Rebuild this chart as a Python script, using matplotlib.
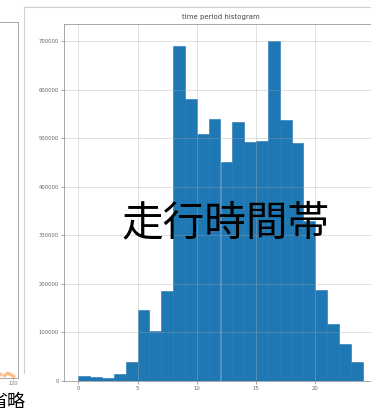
import matplotlib.pyplot as plt
import numpy as np

# Counts per hour of day
hours = list(range(24))
counts = [11000, 8000, 7000, 14000, 39000, 146000, 102000, 186000,
          690000, 581000, 509000, 540000, 451000, 533000, 493000, 495000,
          700000, 537000, 490000, 330000, 188000, 118000, 76000, 40000]
bin_edges = list(range(25))
y_ticks = [0, 100000, 200000, 300000, 400000, 500000, 600000, 700000]
x_ticks = [0, 5, 10, 15, 20, 25]

# Neighbouring panel (only its right edge is in view)
side_x = [108, 111, 114, 117, 120]
side_y = [0.012, 0.008, 0.015, 0.010, 0.006]

W, H = 371, 409
fig = plt.figure(figsize=(W / 100, H / 100), dpi=100)
fig.patch.set_facecolor("white")

grid_kw = dict(color="#a8a8a8", linewidth=0.6, alpha=0.4)
spine_color = "#9a9a9a"

# left neighbour panel
ax0 = fig.add_axes([-0.30, 31 / H, 0.30 + 18 / W, 356 / H])
ax0.scatter(side_x, side_y, s=8, color="#ff7f0e", alpha=0.5, linewidths=0)
ax0.set_xlim(0, 125)
ax0.set_ylim(0, 1)
ax0.set_xticks([120])
ax0.set_yticks([])
ax0.tick_params(labelsize=3.5, colors="#777777", length=1.5, width=0.4, pad=1)
for s in ax0.spines.values():
    s.set_color(spine_color)
    s.set_linewidth(0.6)

# main histogram (thin same-colour edges close the seams between bins)
ax = fig.add_axes([64 / W, 28 / H, 313 / W, 357 / H])
ax.hist(hours, bins=bin_edges, weights=counts, color="#1f77b4",
        edgecolor="#1f77b4", linewidth=0.4)
ax.set_xlim(-1.2, 25.2)
ax.set_ylim(0, 735000)
ax.set_xticks(x_ticks)
ax.set_yticks(y_ticks)
ax.set_axisbelow(False)
ax.grid(True, **grid_kw)
ax.tick_params(labelsize=3.8, colors="#666666", length=2, width=0.4, pad=1.5)
for s in ax.spines.values():
    s.set_color(spine_color)
    s.set_linewidth(0.6)
ax.set_title("time period histogram", fontsize=5, color="#444444", pad=3.5)

# panel border lines of the surrounding frame
fig.add_artist(plt.Line2D([24 / W, 24 / W], [1 - 7 / H, 1 - 373 / H],
                          color="#d0d0d0", linewidth=0.8, transform=fig.transFigure))
fig.add_artist(plt.Line2D([24 / W, 1.0], [1 - 7 / H, 1 - 7 / H],
                          color="#d0d0d0", linewidth=0.8, transform=fig.transFigure))

# overlaid captions
fig.text(226 / W, 1 - 224 / H, "走行時間帯", fontsize=30, ha="center", va="center",
         family=["Noto Sans CJK JP", "DejaVu Sans"], color="black")
fig.text(25 / W, -2 / H, "省略", fontsize=13, ha="right", va="bottom",
         family=["Noto Sans CJK JP", "DejaVu Sans"], color="black")

fig.savefig("out.png", dpi=100, facecolor="white")
